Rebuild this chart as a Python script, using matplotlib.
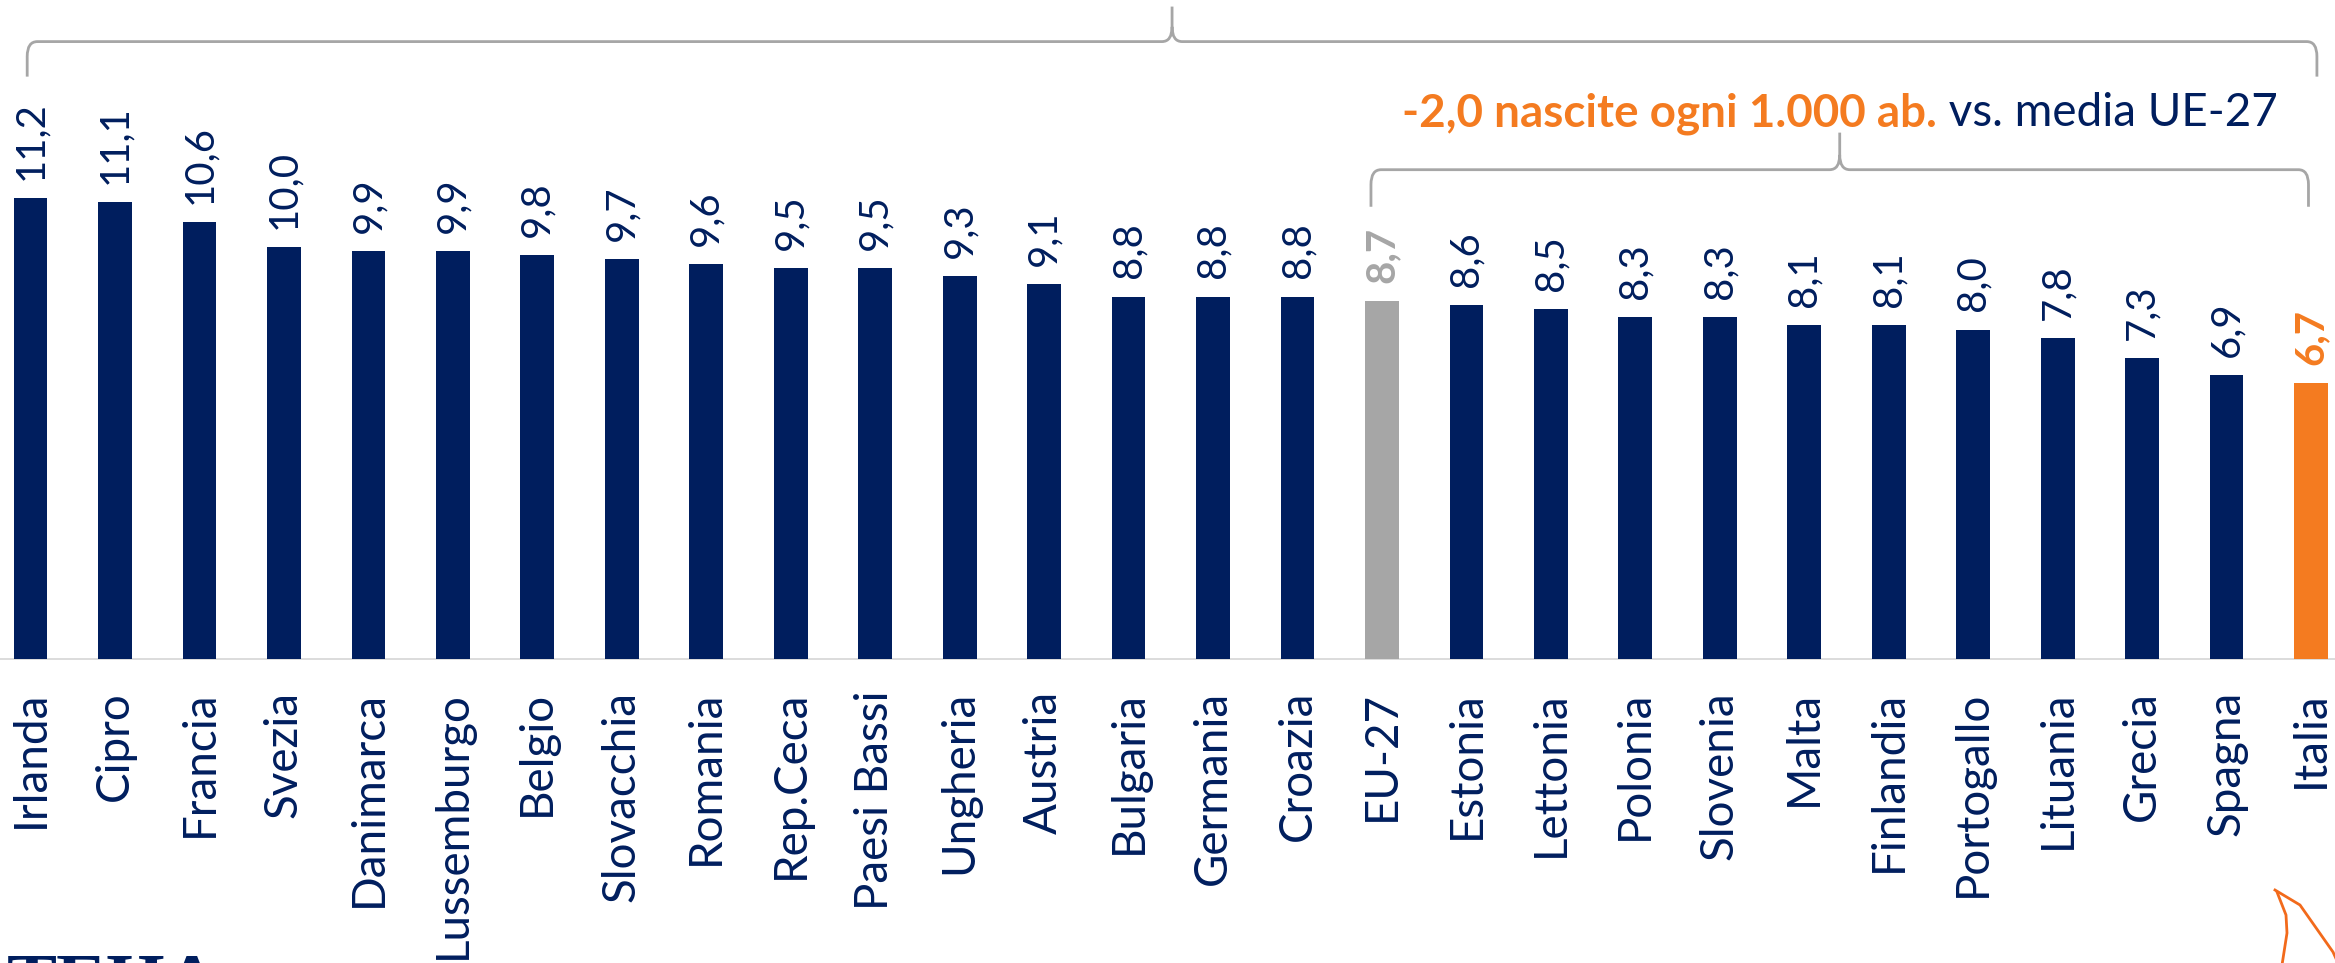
import matplotlib.pyplot as plt
from matplotlib.path import Path
from matplotlib.patches import PathPatch

# Dati: nascite ogni 1.000 abitanti
countries = ["Irlanda", "Cipro", "Francia", "Svezia", "Danimarca", "Lussemburgo",
             "Belgio", "Slovacchia", "Romania", "Rep.Ceca", "Paesi Bassi", "Ungheria",
             "Austria", "Bulgaria", "Germania", "Croazia", "EU-27", "Estonia",
             "Lettonia", "Polonia", "Slovenia", "Malta", "Finlandia", "Portogallo",
             "Lituania", "Grecia", "Spagna", "Italia"]
values = [11.2, 11.1, 10.6, 10.0, 9.9, 9.9, 9.8, 9.7, 9.6, 9.5, 9.5, 9.3, 9.1,
          8.8, 8.8, 8.8, 8.7, 8.6, 8.5, 8.3, 8.3, 8.1, 8.1, 8.0, 7.8, 7.3, 6.9, 6.7]
note_bold = "-2,0 nascite ogni 1.000 ab."
note_rest = " vs. media UE-27"

NAVY = "#001e5e"
ORANGE = "#f47b20"
GREY = "#a6a6a6"

plt.rcParams["font.family"] = ["Lato", "DejaVu Sans"]

fig = plt.figure(figsize=(23.35, 9.63), dpi=100)
ax = fig.add_axes([0, 304 / 963, 1, 659 / 963])
fig.canvas.draw()
r = fig.canvas.get_renderer()


def width_at30(s, **kw):
    t = fig.text(0, 0, s, fontsize=30, **kw)
    w = t.get_window_extent(r).width
    t.remove()
    return w


# dimensioni dei testi tarate sulle larghezze misurate nel grafico
tick_fs = 30 * 206 / width_at30("Portogallo")
val_fs = 30 * 79 / width_at30("11,2")
note_fs = 30 * 874 / (width_at30(note_bold, fontweight="bold") + width_at30(note_rest))

n = len(countries)
eu = countries.index("EU-27")
it = countries.index("Italia")
colors = [NAVY] * n
colors[eu] = GREY
colors[it] = ORANGE

x = list(range(n))
ax.bar(x, values, width=0.4, color=colors, zorder=3)

for i, v in enumerate(values):
    c = colors[i]
    w = "bold" if i in (eu, it) else "normal"
    ax.annotate(f"{v:.1f}".replace(".", ","), (i, v), xytext=(0, 13),
                textcoords="offset points", rotation=90, ha="center", va="bottom",
                fontsize=val_fs, color=c, fontweight=w)

ax.set_xlim(-0.362, 27.284)
ax.set_ylim(0, 16.0)
ax.set_xticks(x, countries, rotation=90, fontsize=tick_fs, color=NAVY)
ax.tick_params(axis="x", length=0, pad=23)
ax.set_yticks([])
for s in ["top", "left", "right"]:
    ax.spines[s].set_visible(False)
ax.spines["bottom"].set_color("#d9d9d9")
ax.spines["bottom"].set_linewidth(1.3)


def brace(x0, x1, y_end, y_h, y_peak, rx=0.12, ry=0.36):
    xm = (x0 + x1) / 2
    verts = [(x0, y_end), (x0, y_h - ry), (x0, y_h), (x0 + rx, y_h),
             (xm - rx, y_h), (xm, y_h), (xm, y_h + ry), (xm, y_peak),
             (xm, y_h + ry), (xm, y_h), (xm + rx, y_h),
             (x1 - rx, y_h), (x1, y_h), (x1, y_h - ry), (x1, y_end)]
    codes = [Path.MOVETO, Path.LINETO, Path.CURVE3, Path.CURVE3,
             Path.LINETO, Path.CURVE3, Path.CURVE3, Path.LINETO,
             Path.MOVETO, Path.CURVE3, Path.CURVE3,
             Path.LINETO, Path.CURVE3, Path.CURVE3, Path.LINETO]
    ax.add_patch(PathPatch(Path(verts, codes), fill=False, edgecolor=GREY,
                           lw=2.0, clip_on=False, capstyle="butt"))
    return xm


# parentesi su tutti i paesi e da EU-27 a Italia
brace(0 - 0.04, n - 1 + 0.07, 14.14, 14.99, 15.84)
xm2 = brace(eu - 0.13, it - 0.03, 10.98, 11.88, 12.78)

# nota a due colori centrata sulla seconda parentesi
t1 = ax.annotate(note_bold, (xm2, 12.93), xytext=(0, 0), textcoords="offset points",
                 ha="left", va="baseline", fontsize=note_fs, fontweight="bold",
                 color=ORANGE)
t2 = ax.annotate(note_rest, (xm2, 12.93), xytext=(0, 0), textcoords="offset points",
                 ha="left", va="baseline", fontsize=note_fs, color=NAVY)
w1 = t1.get_window_extent(r).width
w2 = t2.get_window_extent(r).width
px2pt = 72 / fig.dpi
t1.xyann = (-(w1 + w2) / 2 * px2pt, 0)
t2.xyann = ((w1 - (w1 + w2) / 2) * px2pt, 0)

# logo (in parte fuori dal bordo)
fig.text(0.003, -0.044, "TEHA", fontsize=54, fontweight="bold", color=NAVY,
         family="Liberation Serif", va="baseline", ha="left")
W, H = 2335, 963
sw = [(2275, 890), (2300, 905), (2333, 952), (2338, 963)]
fig.add_artist(plt.Line2D([p[0] / W for p in sw], [1 - p[1] / H for p in sw],
                          color="#f26a1b", lw=2, transform=fig.transFigure))
sw2 = [(2277, 892), (2286, 915), (2287, 933), (2282, 965)]
fig.add_artist(plt.Line2D([p[0] / W for p in sw2], [1 - p[1] / H for p in sw2],
                          color="#f26a1b", lw=2, transform=fig.transFigure))

fig.savefig("out.png", dpi=100)
